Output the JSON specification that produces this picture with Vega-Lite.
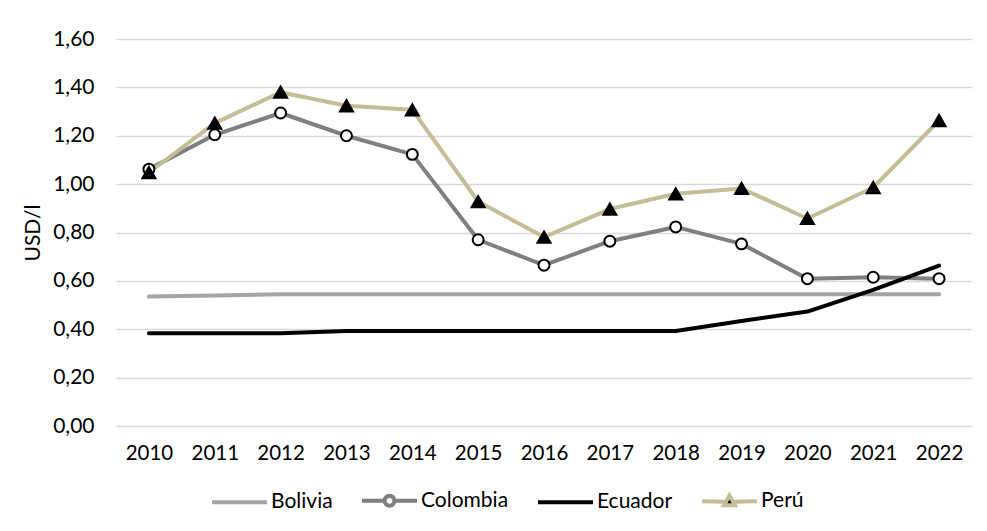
{
  "$schema": "https://vega.github.io/schema/vega-lite/v6.json",
  "width": 856,
  "height": 387,
  "autosize": {"type": "none"},
  "padding": {"left": 116, "top": 39, "right": 15, "bottom": 105},
  "background": "white",
  "config": {
    "font": "Lato",
    "view": {"stroke": null},
    "axis": {"labelFont": "Lato", "titleFont": "Lato", "labelColor": "#000000", "titleColor": "#000000"}
  },
  "data": {
    "values": [
      {"year": "2010", "country": "Bolivia", "value": 0.535},
      {"year": "2011", "country": "Bolivia", "value": 0.54},
      {"year": "2012", "country": "Bolivia", "value": 0.545},
      {"year": "2013", "country": "Bolivia", "value": 0.545},
      {"year": "2014", "country": "Bolivia", "value": 0.545},
      {"year": "2015", "country": "Bolivia", "value": 0.545},
      {"year": "2016", "country": "Bolivia", "value": 0.545},
      {"year": "2017", "country": "Bolivia", "value": 0.545},
      {"year": "2018", "country": "Bolivia", "value": 0.545},
      {"year": "2019", "country": "Bolivia", "value": 0.545},
      {"year": "2020", "country": "Bolivia", "value": 0.545},
      {"year": "2021", "country": "Bolivia", "value": 0.545},
      {"year": "2022", "country": "Bolivia", "value": 0.545},
      {"year": "2010", "country": "Colombia", "value": 1.062},
      {"year": "2011", "country": "Colombia", "value": 1.204},
      {"year": "2012", "country": "Colombia", "value": 1.294},
      {"year": "2013", "country": "Colombia", "value": 1.2},
      {"year": "2014", "country": "Colombia", "value": 1.123},
      {"year": "2015", "country": "Colombia", "value": 0.77},
      {"year": "2016", "country": "Colombia", "value": 0.665},
      {"year": "2017", "country": "Colombia", "value": 0.764},
      {"year": "2018", "country": "Colombia", "value": 0.823},
      {"year": "2019", "country": "Colombia", "value": 0.753},
      {"year": "2020", "country": "Colombia", "value": 0.609},
      {"year": "2021", "country": "Colombia", "value": 0.615},
      {"year": "2022", "country": "Colombia", "value": 0.609},
      {"year": "2010", "country": "Ecuador", "value": 0.383},
      {"year": "2011", "country": "Ecuador", "value": 0.383},
      {"year": "2012", "country": "Ecuador", "value": 0.383},
      {"year": "2013", "country": "Ecuador", "value": 0.393},
      {"year": "2014", "country": "Ecuador", "value": 0.393},
      {"year": "2015", "country": "Ecuador", "value": 0.393},
      {"year": "2016", "country": "Ecuador", "value": 0.393},
      {"year": "2017", "country": "Ecuador", "value": 0.393},
      {"year": "2018", "country": "Ecuador", "value": 0.393},
      {"year": "2019", "country": "Ecuador", "value": 0.434},
      {"year": "2020", "country": "Ecuador", "value": 0.473},
      {"year": "2021", "country": "Ecuador", "value": 0.563},
      {"year": "2022", "country": "Ecuador", "value": 0.663},
      {"year": "2010", "country": "Perú", "value": 1.048},
      {"year": "2011", "country": "Perú", "value": 1.252},
      {"year": "2012", "country": "Perú", "value": 1.38},
      {"year": "2013", "country": "Perú", "value": 1.324},
      {"year": "2014", "country": "Perú", "value": 1.307},
      {"year": "2015", "country": "Perú", "value": 0.928},
      {"year": "2016", "country": "Perú", "value": 0.781},
      {"year": "2017", "country": "Perú", "value": 0.897},
      {"year": "2018", "country": "Perú", "value": 0.96},
      {"year": "2019", "country": "Perú", "value": 0.982},
      {"year": "2020", "country": "Perú", "value": 0.858},
      {"year": "2021", "country": "Perú", "value": 0.986},
      {"year": "2022", "country": "Perú", "value": 1.263}
    ]
  },
  "encoding": {
    "x": {
      "field": "year", "type": "ordinal",
      "scale": {"type": "point", "padding": 0.5},
      "axis": {"title": null, "labelAngle": 0, "labelFontSize": 20.5, "labelPadding": 17, "domain": false, "ticks": false, "grid": false}
    },
    "y": {
      "field": "value", "type": "quantitative",
      "scale": {"domain": [0, 1.6], "nice": false, "zero": true},
      "axis": {
        "title": "USD/l", "titleFontSize": 21, "titleFontWeight": "normal", "titlePadding": 9,
        "values": [0, 0.2, 0.4, 0.6, 0.8, 1.0, 1.2, 1.4, 1.6],
        "labelExpr": "replace(format(datum.value, '.2f'), '.', ',')",
        "labelFontSize": 21, "labelPadding": 22, "domain": false, "ticks": false,
        "grid": true, "gridColor": "#D9D9D9", "gridWidth": 1.6
      }
    }
  },
  "layer": [
    {
      "mark": {"type": "line", "strokeCap": "round", "strokeJoin": "round"},
      "encoding": {
        "color": {
          "field": "country", "type": "nominal",
          "scale": {"domain": ["Bolivia", "Colombia", "Ecuador", "Perú"], "range": ["#A5A5A5", "#7F7F7F", "#000000", "#C4BD97"]},
          "legend": {
            "title": null, "orient": "none", "direction": "horizontal", "legendX": 94, "legendY": 432,
            "symbolType": "stroke", "symbolSize": 3025, "symbolStrokeWidth": 4,
            "labelFont": "Lato", "labelFontSize": 21, "labelColor": "#000000", "labelOffset": 2, "columnPadding": 21,
            "encode": {
              "symbols": {
                "update": {
                  "shape": {"signal": "datum.label === 'Colombia' ? 'M-1,0L-0.2,0M0.2,0L1,0M0.18,0A0.18,0.18,0,1,1,-0.18,0A0.18,0.18,0,1,1,0.18,0Z' : (datum.label === 'Perú' ? 'M-1,0L-0.18,0.02M0.18,0.02L1,0M0,-0.21L0.2,0.15L-0.2,0.15Z' : 'stroke')"},
                  "fill": {"signal": "datum.label === 'Colombia' ? '#FFFFFF' : (datum.label === 'Perú' ? '#000000' : 'transparent')"},
                  "strokeWidth": {"signal": "datum.label === 'Ecuador' ? 6 : 4"},
                  "opacity": {"value": 1}
                }
              }
            }
          }
        },
        "strokeWidth": {
          "field": "country", "type": "nominal",
          "scale": {"domain": ["Bolivia", "Colombia", "Ecuador", "Perú"], "range": [4, 4, 5.5, 4]},
          "legend": null
        }
      }
    },
    {
      "transform": [{"filter": "datum.country === 'Colombia' || datum.country === 'Perú'"}],
      "mark": {"type": "point", "filled": true, "stroke": "#000000", "strokeWidth": 2, "opacity": 1},
      "encoding": {
        "shape": {
          "field": "country", "type": "nominal",
          "scale": {"domain": ["Colombia", "Perú"], "range": ["circle", "triangle-up"]},
          "legend": null
        },
        "size": {
          "field": "country", "type": "nominal",
          "scale": {"domain": ["Colombia", "Perú"], "range": [120, 170]},
          "legend": null
        },
        "fill": {
          "field": "country", "type": "nominal",
          "scale": {"domain": ["Colombia", "Perú"], "range": ["#FFFFFF", "#000000"]},
          "legend": null
        }
      }
    }
  ]
}
